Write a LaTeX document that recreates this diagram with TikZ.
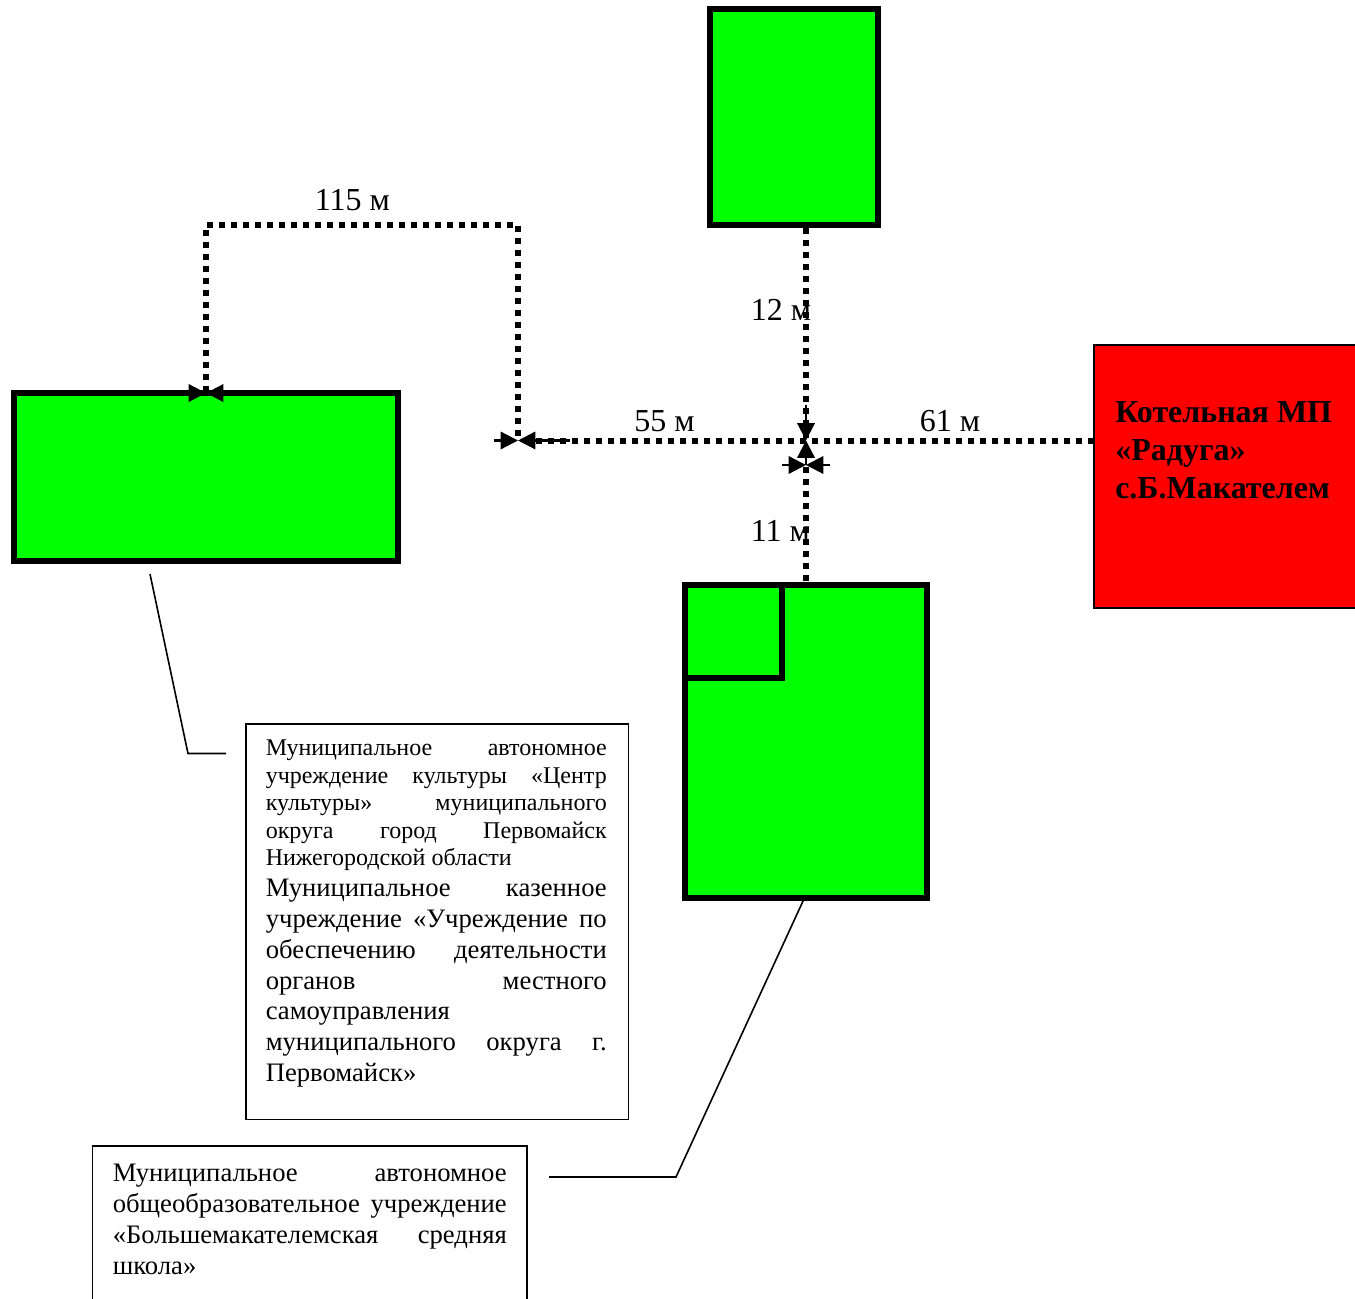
\documentclass[tikz,border=0pt]{standalone}
\usepackage{fontspec}
\setmainfont{Liberation Serif}
\usetikzlibrary{arrows.meta}
\newcommand{\jl}[2]{\makebox[#1][s]{#2}\par}
\newlength{\pxu}\setlength{\pxu}{0.75pt}
\tikzset{
 x=0.75pt,y=-0.75pt,
 building/.style={draw=black,fill=green,line width=4.5pt,rectangle,minimum width=#1},
 notebox/.style={draw=black,line width=1.3pt,fill=white,inner sep=0pt,anchor=north west},
 leader/.style={draw=black,line width=1.2pt},
 route/.style={draw=black,line width=4.5pt,dash pattern=on 4.5pt off 4.5pt},
 tipline/.style={draw=black,line width=1.7pt,-{Stealth[length=13pt,width=13pt,inset=0pt]}},
 dist/.style={font=\fontsize{24pt}{28pt}\selectfont,anchor=base west,inner sep=0pt},
}
\begin{document}
\begin{tikzpicture}
\useasboundingbox (0,0) rectangle (1355,1298);
% red boiler house
\fill[red] (1094,345) rectangle (1357,608);
\draw[black,line width=1.6pt] (1357,345) -- (1094,345) -- (1094,608) -- (1357,608);
\node[anchor=north west,inner sep=0pt,font=\bfseries\fontsize{24pt}{28.5pt}\selectfont,align=left] (boiler) at (1115,401) {Котельная МП\\«Радуга»\\с.Б.Макателем};
% buildings
\path[building=1pt] (710,9) rectangle (878,225);
\path[building=1pt] (14,393) rectangle (398,561);
\path[building=1pt] (685,584.5) rectangle (926.5,898);
\draw[black,line width=4pt] (685,678) -- (782,678) -- (782,584.5);
\coordinate (topB) at (806,228);
\coordinate (leftB) at (206,392);
\coordinate (schoolB) at (806,581);
\coordinate (boilerW) at (1094,440.5);
\coordinate (turn1) at (206,225);
\coordinate (turn2) at (518,225);
\coordinate (joinL) at (518,440.5);
\coordinate (joinC) at (806,440.5);
\coordinate (joinD) at (806,465);
% labels under routes
\node[dist] (l115) at (314.5,210.5) {115 м};
\node[dist] (l12) at (750.5,320) {12 м};
\node[dist] (l55) at (634,431) {55 м};
\node[dist] (l61) at (919.5,431) {61 м};
\node[dist] (l11) at (750.5,541) {11 м};
% routes
\draw[route] (leftB) -- (turn1) -- (turn2) -- (joinL);
\draw[route] (boilerW) -- (joinL);
\draw[route] (topB) -- (joinC);
\draw[route] (schoolB) -- (joinD);
% arrow tips
\coordinate (a1) at (188,393); \coordinate (a2) at (224,393);
\draw[tipline] (a1) -- (leftB |- a1);
\draw[tipline] (a2) -- (leftB |- a2);
\coordinate (a3) at (494,440.5); \coordinate (a4) at (570,440.5);
\draw[tipline] (a3) -- (joinL);
\draw[tipline] (a4) -- (joinL);
\coordinate (a5) at (806,405); \coordinate (a6) at (806,465);
\draw[tipline] (a5) -- (joinC);
\draw[tipline] (a6) -- (joinC);
\coordinate (a7) at (782,465); \coordinate (a8) at (830,465);
\draw[tipline] (a7) -- (joinD);
\draw[tipline] (a8) -- (joinD);
% note boxes
\node[notebox,minimum width=382.5*\pxu,minimum height=395.5*\pxu] (note1) at (245,723) {};
\node[anchor=north west,inner sep=0pt] (note1t) at (265.5,740) {\parbox[t]{341\pxu}{%
 \fontsize{18pt}{20.6pt}\selectfont\parindent=0pt
 \jl{341\pxu}{Муниципальное автономное}
 \jl{341\pxu}{учреждение культуры «Центр}
 \jl{341\pxu}{культуры» муниципального}
 \jl{341\pxu}{округа город Первомайск}
 Нижегородской области\par
 \fontsize{20pt}{23.1pt}\selectfont
 \jl{341\pxu}{Муниципальное казенное}
 \jl{341\pxu}{учреждение «Учреждение по}
 \jl{341\pxu}{обеспечению деятельности}
 \jl{341\pxu}{органов местного}
 самоуправления\par
 \jl{341\pxu}{муниципального округа г.}
 Первомайск»\par}};
\path[draw=black,line width=1.3pt,fill=white] (527,1300) -- (527,1146) -- (92.5,1146) -- (92.5,1300);
\coordinate (note2c) at (92,1146);
\node[anchor=north west,inner sep=0pt] (note2t) at (112.5,1164) {\parbox[t]{394\pxu}{%
 \fontsize{20pt}{23.1pt}\selectfont\parindent=0pt
 \jl{394\pxu}{Муниципальное автономное}
 \jl{394\pxu}{общеобразовательное учреждение}
 \jl{394\pxu}{«Большемакателемская средняя}
 школа»\par}};
% leaders
\coordinate (ld1) at (150,574); \coordinate (ld2) at (188,753.5); \coordinate (ld3) at (226,753.5);
\draw[leader] (ld1) -- (ld2) -- (ld3);
\coordinate (ld4) at (803.5,900); \coordinate (ld5) at (676,1177); \coordinate (ld6) at (549,1177);
\draw[leader] (ld4) -- (ld5) -- (ld6);
\end{tikzpicture}
\end{document}
